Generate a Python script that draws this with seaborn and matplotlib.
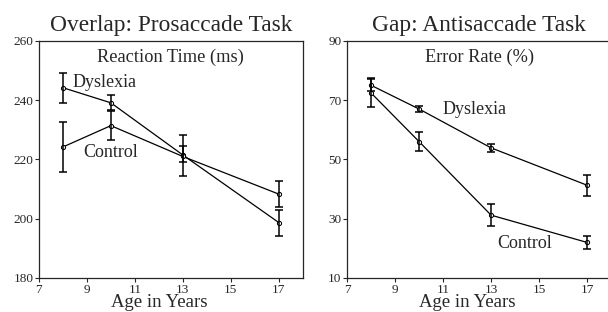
import matplotlib.pyplot as plt
import pandas as pd
import seaborn as sns

ages = [8, 10, 13, 17]

# Overlap: prosaccade reaction time (ms)
rt_dyslexia = [244.2, 239.1, 221.5, 198.7]
rt_dyslexia_lo = [239.0, 236.6, 219.0, 194.2]
rt_dyslexia_hi = [249.2, 241.6, 224.4, 202.9]
rt_control = [224.2, 231.4, 221.0, 208.3]
rt_control_lo = [215.8, 226.4, 214.3, 204.0]
rt_control_hi = [232.5, 236.4, 228.2, 212.7]

# Gap: antisaccade error rate (%)
er_dyslexia = [75.0, 67.0, 53.9, 41.3]
er_dyslexia_lo = [73.0, 66.1, 52.6, 37.8]
er_dyslexia_hi = [77.4, 67.9, 55.2, 44.8]
er_control = [72.4, 56.0, 31.2, 22.0]
er_control_lo = [67.7, 52.8, 27.6, 19.8]
er_control_hi = [77.0, 59.4, 34.8, 24.3]

sns.set_theme(style="ticks")
plt.rcParams["font.family"] = ["Liberation Serif", "DejaVu Serif"]
plt.rcParams["axes.linewidth"] = 0.9


def make_frame(dys, con):
    return pd.DataFrame({
        "age": ages * 2,
        "value": dys + con,
        "group": ["Dyslexia"] * 4 + ["Control"] * 4,
    })


fig = plt.figure(figsize=(6.08, 3.12), dpi=100)
ax1 = fig.add_axes([0.064, 0.109, 0.434, 0.760])
ax2 = fig.add_axes([0.571, 0.109, 0.434, 0.760])

panels = [
    (ax1, rt_dyslexia, rt_dyslexia_lo, rt_dyslexia_hi,
     rt_control, rt_control_lo, rt_control_hi,
     (180, 260), [180, 200, 220, 240, 260],
     "Overlap: Prosaccade Task", "Reaction Time (ms)",
     (8.42, 245.8), (8.83, 222.5)),
    (ax2, er_dyslexia, er_dyslexia_lo, er_dyslexia_hi,
     er_control, er_control_lo, er_control_hi,
     (10, 90), [10, 30, 50, 70, 90],
     "Gap: Antisaccade Task", "Error Rate (%)",
     (10.96, 66.7), (13.25, 21.8)),
]

for (ax, dys, dlo, dhi, con, clo, chi, ylim, yticks,
     title, inner, dys_pos, con_pos) in panels:
    df = make_frame(dys, con)
    sns.lineplot(
        data=df, x="age", y="value", hue="group", ax=ax,
        palette={"Dyslexia": "black", "Control": "black"},
        marker="o", markersize=3, markerfacecolor="white",
        markeredgecolor="black", linewidth=0.9, legend=False,
    )
    for vals, lo, hi in [(dys, dlo, dhi), (con, clo, chi)]:
        err = [[v - l for v, l in zip(vals, lo)], [h - v for v, h in zip(vals, hi)]]
        ax.errorbar(ages, vals, yerr=err, fmt="none", ecolor="black",
                    elinewidth=1.1, capsize=3, capthick=1.1)
    ax.set_xlim(7, 18)
    ax.set_ylim(*ylim)
    ax.set_xticks([7, 9, 11, 13, 15, 17])
    ax.set_yticks(yticks)
    ax.tick_params(labelsize=9.5, length=3, width=0.8, pad=1)
    ax.set_xlabel("Age in Years", fontsize=13.5)
    ax.xaxis.set_label_coords(5 / 11, -0.068, transform=ax.transAxes)
    ax.xaxis.label.set_va("top")
    ax.set_ylabel("")
    ax.set_title(title, fontsize=16.8, pad=7)
    ax.text(0.5, 0.965, inner, transform=ax.transAxes, ha="center", va="top",
            fontsize=13.2)
    ax.text(*dys_pos, "Dyslexia", fontsize=13, ha="left", va="center")
    ax.text(*con_pos, "Control", fontsize=13, ha="left", va="center")
    for s in ax.spines.values():
        s.set_visible(True)

fig.savefig("out.png", dpi=100)
